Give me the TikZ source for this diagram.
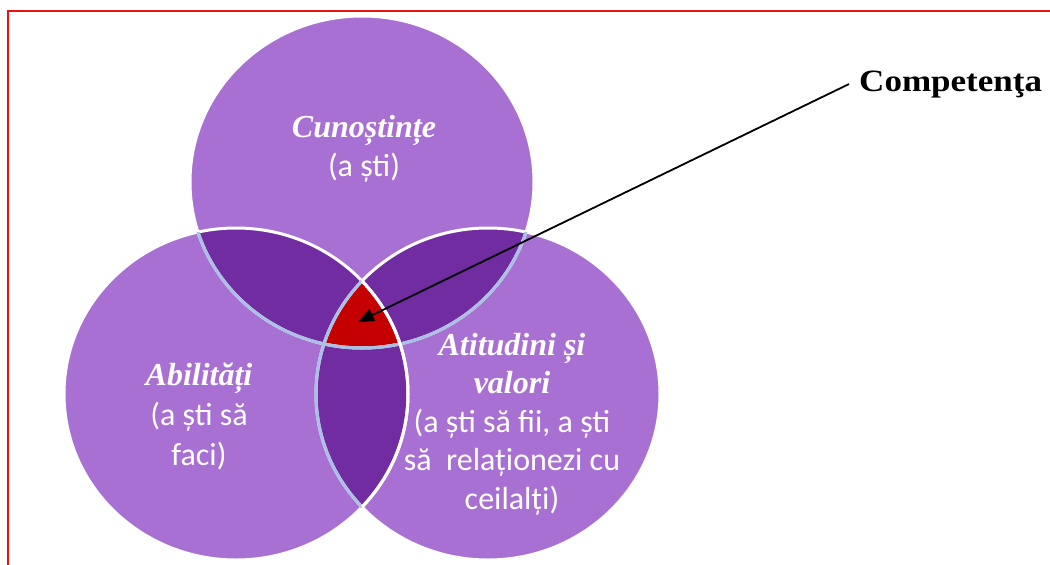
\documentclass[tikz,border=0pt]{standalone}
\usepackage{fontspec}
\setmainfont{Liberation Serif}
\newfontfamily\subfam{Carlito}
\newfontfamily\compfam[FakeStretch=1.13]{Liberation Serif}
\usetikzlibrary{arrows.meta}
\definecolor{lightpurple}{RGB}{168,112,211}
\definecolor{darkpurple}{RGB}{112,44,160}
\definecolor{venred}{RGB}{196,0,0}
\definecolor{edgeblue}{RGB}{170,192,228}
\definecolor{framered}{RGB}{228,20,20}
\newcommand\headtxt{\rmfamily\bfseries\itshape}
\newcommand\subtxt{\subfam\mdseries\upshape}
\tikzset{
  circ/.style={x radius=172pt, y radius=166pt},
  whiteedge/.style={draw=white, line width=3pt},
  blueedge/.style={draw=edgeblue, line width=3pt},
  lbl/.style={text=white, align=center, inner sep=0pt, font=\fontsize{32}{38.5}\selectfont},
  pointer/.style={draw=black, line width=1.8pt, -{Triangle[length=16pt,width=13pt]}},
  frame/.style={draw=framered, line width=1.6pt}
}
\begin{document}
\begin{tikzpicture}[x=1pt,y=-1pt]
\useasboundingbox (0,0) rectangle (1050,565);
\fill[white] (0,0) rectangle (1050,565);
\draw[frame] (8,565) -- (8,11) -- (1050,11);
\coordinate (T) at (362,182);
\coordinate (L) at (236,394);
\coordinate (R) at (488,394);
% base fills
\fill[lightpurple] (T) ellipse [circ];
\fill[lightpurple] (L) ellipse [circ];
\fill[lightpurple] (R) ellipse [circ];
% pairwise overlaps
\begin{scope}\clip (T) ellipse [circ]; \fill[darkpurple] (L) ellipse [circ]; \end{scope}
\begin{scope}\clip (T) ellipse [circ]; \fill[darkpurple] (R) ellipse [circ]; \end{scope}
\begin{scope}\clip (L) ellipse [circ]; \fill[darkpurple] (R) ellipse [circ]; \end{scope}
% triple overlap
\begin{scope}\clip (T) ellipse [circ]; \clip (L) ellipse [circ]; \fill[venred] (R) ellipse [circ]; \end{scope}
% outlines
\draw[whiteedge] (T) ellipse [circ];
\draw[whiteedge] (L) ellipse [circ];
\draw[whiteedge] (R) ellipse [circ];
\begin{scope}\clip (L) ellipse [circ]; \draw[blueedge] (R) ellipse [circ]; \draw[blueedge] (T) ellipse [circ]; \end{scope}
\begin{scope}\clip (R) ellipse [circ]; \draw[blueedge] (T) ellipse [circ]; \end{scope}
\begin{scope}\clip (R) ellipse [circ]; \draw[whiteedge] (L) ellipse [circ]; \end{scope}
% labels
\node[lbl] (know) at (364,149) {\headtxt Cunoștințe\\ \subtxt (a ști)};
\node[lbl, font=\fontsize{32}{40}\selectfont] (skill) at (199,416) {\headtxt Abilități\\ \subtxt (a ști să\\ \subtxt faci)};
\node[lbl] (att) at (512,424) {\headtxt Atitudini și\\ \headtxt valori\\ \subtxt (a ști să fii, a ști\\ \subtxt să\ \ relaționezi cu\\ \subtxt ceilalți)};
\node[anchor=base west, inner sep=0pt, font=\compfam\bfseries\fontsize{31}{31}\selectfont] (comp) at (859,91) {Competenţa};
\coordinate (tip) at (358,322);
\draw[pointer] ([xshift=-10pt]comp.west) -- (tip);
\end{tikzpicture}
\end{document}
